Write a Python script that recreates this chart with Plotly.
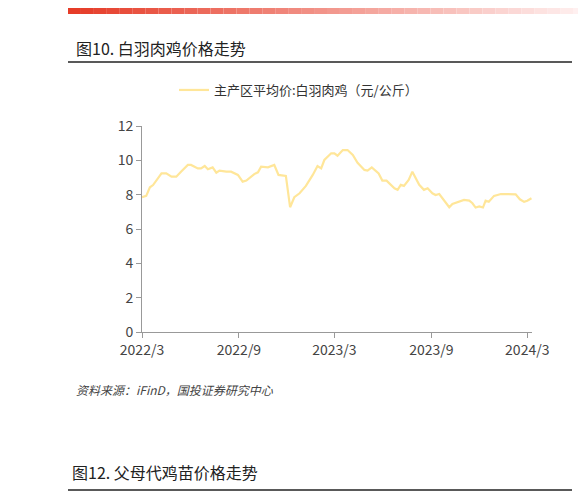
import plotly.graph_objects as go
import pandas as pd

start = "2022-03-01"
day_offsets = [0,8,15,21,37,46,56,65,74,87,93,106,112,119,125,134,141,147,160,169,182,191,198,213,220,226,239,251,259,273,281,289,299,305,311,324,333,340,346,359,365,371,381,390,400,409,422,428,436,449,456,464,479,485,491,497,506,513,526,535,542,551,557,564,583,589,598,611,621,627,633,640,647,652,658,668,681,693,709,717,725,731,739]
prices = [7.85,7.93,8.43,8.56,9.24,9.24,9.05,9.05,9.34,9.73,9.73,9.53,9.53,9.67,9.48,9.59,9.28,9.40,9.34,9.34,9.15,8.76,8.82,9.2,9.3,9.63,9.59,9.73,9.15,9.09,7.27,7.85,8.08,8.28,8.51,9.15,9.67,9.53,10.02,10.41,10.41,10.27,10.6,10.6,10.31,9.86,9.44,9.40,9.59,9.24,8.82,8.82,8.37,8.28,8.57,8.51,8.86,9.34,8.57,8.28,8.37,8.08,7.98,8.04,7.27,7.46,7.56,7.69,7.65,7.50,7.25,7.31,7.25,7.65,7.59,7.93,8.04,8.02,8.02,7.73,7.58,7.65,7.79]
tick_dates = ["2022-03-01","2022-09-01","2023-03-01","2023-09-01","2024-03-01"]
tick_labels = ["2022/3","2022/9","2023/3","2023/9","2024/3"]
series_name = "主产区平均价:白羽肉鸡（元/公斤）"

dates = pd.to_datetime(start) + pd.to_timedelta(day_offsets, unit="D")

fig = go.Figure()
fig.add_trace(go.Scatter(x=dates, y=prices, mode="lines", name=series_name,
                         line=dict(color="#FFE699", width=2.2)))

OFF = 8  # page body offset
L, T, W, H = 142 - OFF, 126 - OFF, 390, 206
font = "Noto Sans CJK SC"
def px(x): return (x - OFF - L) / W
def py(y): return (T + H - (y - OFF)) / H

fig.update_layout(
    width=586, height=494, paper_bgcolor="white", plot_bgcolor="white",
    margin=dict(l=L, r=586 - L - W, t=T, b=494 - T - H),
    font=dict(family=font, color="#444", size=14),
    showlegend=True,
    legend=dict(orientation="h", x=px(174), xanchor="left", y=py(90), yanchor="middle",
                bgcolor="rgba(0,0,0,0)", font=dict(size=13, color="#333")),
    xaxis=dict(range=["2022-03-01", "2024-03-10"], tickvals=tick_dates, ticktext=tick_labels,
               showgrid=False, showline=True, linecolor="#999", ticks="outside",
               tickcolor="#999", ticklen=5, tickfont=dict(size=14, color="#444")),
    yaxis=dict(range=[0, 12], dtick=2, showgrid=False, showline=True, linecolor="#999",
               ticks="outside", tickcolor="#999", ticklen=5, zeroline=False,
               tickfont=dict(size=14, color="#444")),
)

shapes = []
n = 40
for i in range(n):
    x0 = 68 + (586 - 68) * i / n
    x1 = 68 + (586 - 68) * (i + 1) / n
    t = i / (n - 1)
    r = 230 + (255 - 230) * t
    g = 60 + (240 - 60) * t
    b = 40 + (240 - 40) * t
    shapes.append(dict(type="rect", xref="paper", yref="paper",
                       x0=px(x0), x1=px(x1), y0=py(OFF), y1=py(OFF + 6),
                       line=dict(width=0), fillcolor=f"rgb({int(r)},{int(g)},{int(b)})"))
shapes.append(dict(type="line", xref="paper", yref="paper", x0=px(68), x1=px(572),
                   y0=py(62), y1=py(62), line=dict(color="#222", width=1.5)))
shapes.append(dict(type="line", xref="paper", yref="paper", x0=px(68), x1=px(572),
                   y0=py(490), y1=py(490), line=dict(color="#222", width=1.5)))
fig.update_layout(shapes=shapes)

ann = [
    dict(text="图10. 白羽肉鸡价格走势", x=px(74), y=py(48), font=dict(size=16, color="#222")),
    dict(text="<i>资料来源：iFinD，国投证券研究中心</i>", x=px(74), y=py(389), font=dict(size=12, color="#444")),
    dict(text="图12. 父母代鸡苗价格走势", x=px(70), y=py(472), font=dict(size=16, color="#222")),
]
for a in ann:
    fig.add_annotation(xref="paper", yref="paper", xanchor="left", yanchor="middle",
                       showarrow=False, **a)

fig.write_html("out.html")
